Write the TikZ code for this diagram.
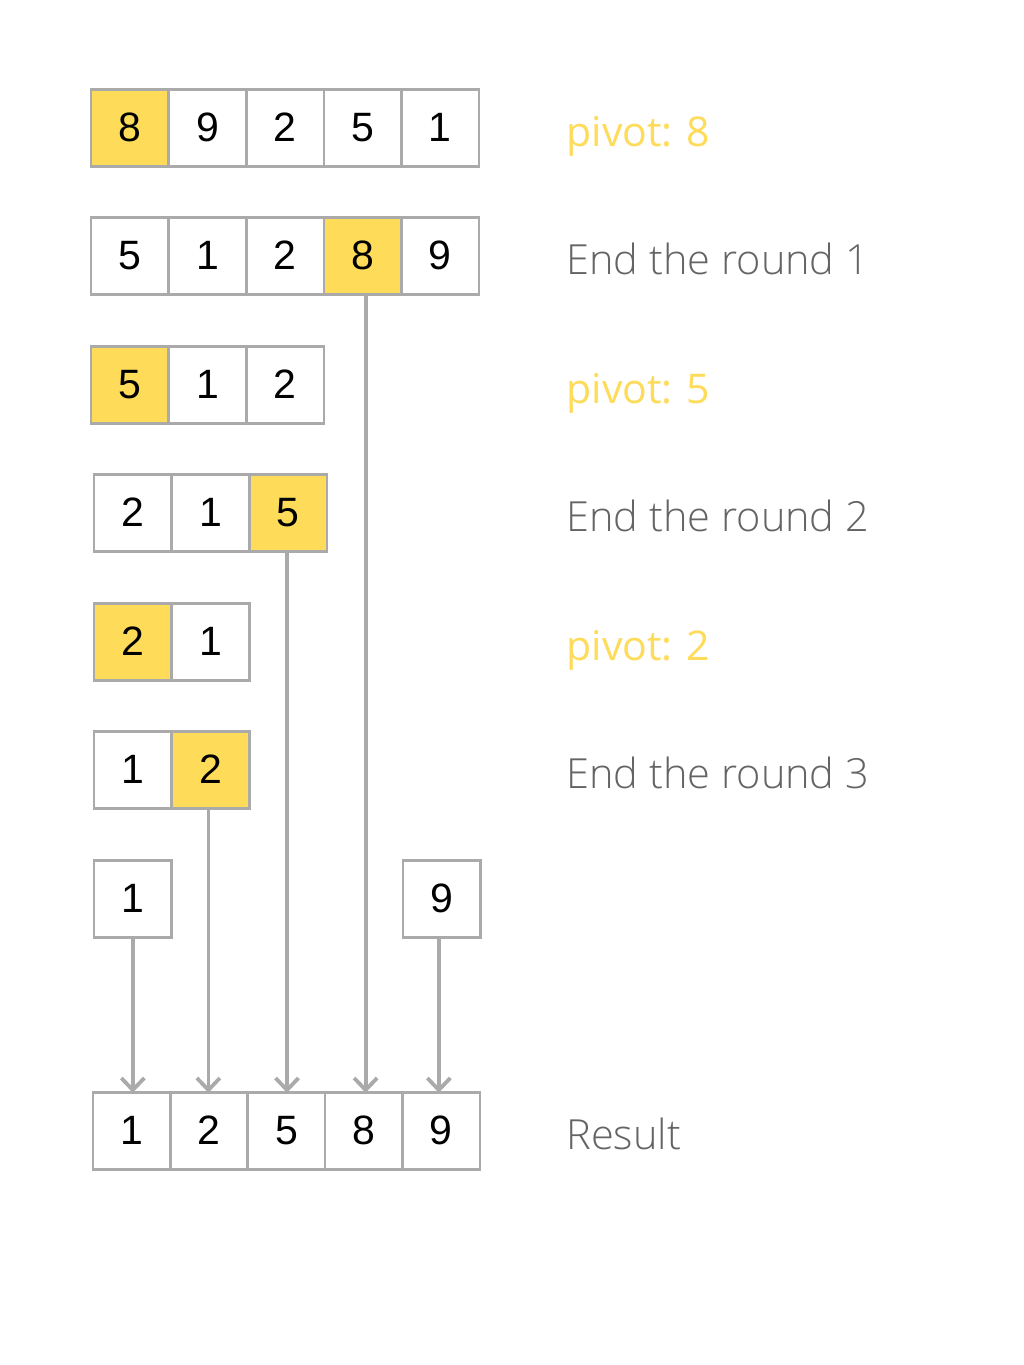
\documentclass[tikz,border=0pt]{standalone}
\usepackage{fontspec}
\setmainfont{Liberation Sans}
\newfontfamily\notefont{Open Sans Light}
\newfontfamily\pivfont{Open Sans}
\usetikzlibrary{arrows.meta}
\definecolor{pivYellow}{RGB}{254, 219, 88}
\definecolor{boxGray}{RGB}{170, 170, 170}
\definecolor{txtGray}{RGB}{100, 100, 100}

\begin{document}
\begin{tikzpicture}[
    x=1pt, y=-1pt,
    cell/.style={rectangle, draw=boxGray, line width=2.6pt, fill=white, outer sep=0pt, inner sep=0pt,
        minimum width=77.6pt, minimum height=76.5pt, text height=26pt, text depth=0pt,
        font=\fontsize{41}{41}\selectfont},
    pivot/.style={cell, fill=pivYellow},
    note/.style={anchor=base west, font=\notefont\fontsize{41.5}{41.5}\selectfont, text=txtGray},
    pnote/.style={anchor=base west, font=\pivfont\fontsize{41}{41}\selectfont, text=pivYellow},
    arr/.style={-{Straight Barb[length=12pt, width=23pt]}, line width=3.8pt, draw=boxGray}
]
\useasboundingbox[fill=white] (0,0) rectangle (1024,1365);

% rows of the partition
\foreach \v/\s [count=\i] in {8/pivot,9/cell,2/cell,5/cell,1/cell}
    \node[\s] (r1c\i) at ({91+77.6*(\i-0.5)},128) {\v};
\foreach \v/\s [count=\i] in {5/cell,1/cell,2/cell,8/pivot,9/cell}
    \node[\s] (r2c\i) at ({91+77.6*(\i-0.5)},256) {\v};
\foreach \v/\s [count=\i] in {5/pivot,1/cell,2/cell}
    \node[\s] (r3c\i) at ({91+77.6*(\i-0.5)},385) {\v};
\foreach \v/\s [count=\i] in {2/cell,1/cell,5/pivot}
    \node[\s] (r4c\i) at ({94+77.6*(\i-0.5)},513) {\v};
\foreach \v/\s [count=\i] in {2/pivot,1/cell}
    \node[\s] (r5c\i) at ({94+77.6*(\i-0.5)},642) {\v};
\foreach \v/\s [count=\i] in {1/cell,2/pivot}
    \node[\s] (r6c\i) at ({94+77.6*(\i-0.5)},770) {\v};
\node[cell] (r7c1) at (132.8,899) {1};
\node[cell] (r7c5) at (441.8,899) {9};
\foreach \v [count=\i] in {1,2,5,8,9}
    \node[cell] (r8c\i) at ({93+77.4*(\i-0.5)},1131) {\v};

% notes
\node[pnote] (n1) at (563,146) {pivot: 8};
\node[note]  (n2) at (563,274) {End the round 1};
\node[pnote] (n3) at (563,403) {pivot: 5};
\node[note]  (n4) at (563,531) {End the round 2};
\node[pnote] (n5) at (563,660) {pivot: 2};
\node[note]  (n6) at (563,788) {End the round 3};
\node[note]  (n8) at (563,1149) {Result};

% settled values drop to the result
\draw[arr] (r7c1.south) -- (r7c1.south |- r8c1.north);
\draw[arr] ([xshift=-2pt]r6c2.south) -- ([xshift=-2pt]r6c2.south |- r8c2.north);
\draw[arr] ([xshift=-1pt]r4c3.south) -- ([xshift=-1pt]r4c3.south |- r8c3.north);
\draw[arr] ([xshift=3pt]r2c4.south) -- ([xshift=3pt]r2c4.south |- r8c4.north);
\draw[arr] ([xshift=-3pt]r7c5.south) -- ([xshift=-3pt]r7c5.south |- r8c5.north);
\end{tikzpicture}
\end{document}
